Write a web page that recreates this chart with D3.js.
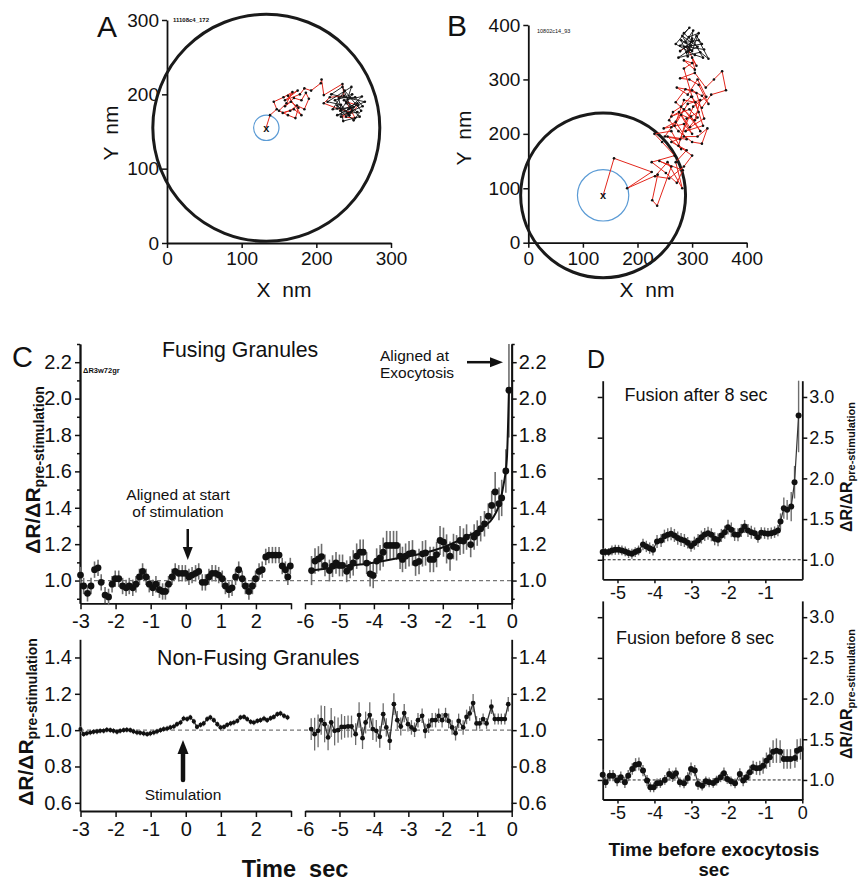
<!DOCTYPE html>
<html>
<head>
<meta charset="utf-8">
<script src="https://cdn.jsdelivr.net/npm/d3@7"></script>
<style>
  body { margin: 0; background: #fff; }
  svg { font-family: "Liberation Sans", Arial, Helvetica, sans-serif; }
</style>
</head>
<body>
<svg width="858" height="882"></svg>
<script>
// ---------- data ----------
const ticksA = [0, 100, 200, 300];
const ticksB = [0, 100, 200, 300, 400];
// centre x, centre y, outer radius, inner radius (nm)
const ringA = [133, 155, 152, 17];
const ringB = [137, 87, 151, 47];

const redA = [[133,156],[138,172],[147,180],[143,190],[156,196],[168,203],[160,188],[150,178],[162,172],[172,168],
  [176,182],[166,190],[158,184],[170,195],[180,192],[186,202],[190,194],[184,180],[174,185],[165,178],[155,175],
  [170,180],[180,172],[162,198],[175,205],[158,192],[178,200],
  [184,208],[193,205],[206,215],[207,220],[210,199],[235,214],[237,198],[218,196],[210,188],[228,181],[246,176],
  [233,170],[252,168],[240,190],[256,185],[244,172]];
const blackA = [[244,172],[225,192],[248,200],[232,178],[255,188],[240,170],[228,185],[250,165],[260,178],[238,205],
  [222,180],[245,182],[258,170],[236,164],[230,195],[252,196],[262,184],[242,175],[233,186],[215,190],[247,210],
  [240,188],[255,176],[228,172],[250,183],[237,192],[261,197],[243,180],[265,190],[220,200],[235,210],[248,178]];
const redB = [[137,87],[157,155],[226,130],[181,100],[237,125],[227,78],[236,68],[262,140],[240,150],[283,133],
  [272,110],[252,128],[226,148],[268,160],[245,185],[231,200],[262,205],[280,172],[255,195],[290,190],[270,222],
  [248,210],[285,218],[300,200],[276,240],[262,232],[295,245],[310,230],[288,205],[320,215],[306,258],[285,262],
  [268,215],[292,255],[315,262],[305,225],[280,235],[296,212],[322,228],[308,275],[288,282],[270,258],[298,232],
  [315,205],[285,245],[262,212],[250,195],[278,190],[302,250],[326,268],[310,300],[292,272],
  [272,285],[300,280],[318,270],[330,255],[312,290],[295,300],[278,302],[305,312],[325,285],[340,300],[355,315],
  [362,280],[335,272],[318,248],[298,268],[280,250],[265,240],[258,225],[275,205],[300,185],[318,182],[328,210],
  [310,195],[285,195],[262,185],[290,170],[270,148],[282,100],[255,148],[232,122],[258,118],[285,140],[300,160],
  [275,178],[290,228],[312,240],[300,268],[285,320],[300,330],[285,335],[305,318],[300,340],[308,325],[290,360],[278,352]];
const blackB = [[278,352],[300,370],[285,385],[295,395],[270,365],[305,345],[320,340],[300,375],[290,350],[310,360],
  [282,380],[296,355],[275,340],[315,350],[330,338],[312,372],[288,368],[302,390],[292,342],[280,372],[298,362],[308,380],
  [318,365],[286,360],[300,352],[312,385],[294,378],[278,362],[322,355]];

// C, fusing granules aligned at stimulation
const fsT = [-3.00,-2.91,-2.80,-2.70,-2.60,-2.50,-2.41,-2.30,-2.20,-2.10,-2.01,-1.91,-1.80,-1.70,-1.61,-1.51,-1.42,-1.32,
  -1.23,-1.13,-1.04,-0.94,-0.85,-0.75,-0.66,-0.58,-0.49,-0.39,-0.30,-0.20,-0.10,-0.01,0.09,0.18,0.28,0.37,0.47,0.56,
  0.66,0.75,0.85,0.94,1.04,1.13,1.23,1.32,1.42,1.51,1.61,1.70,1.80,1.90,1.99,2.09,2.18,2.28,2.37,2.47,2.56,2.66,2.75,
  2.84,2.91,2.98];
const fsV = [1.03,0.97,0.93,0.97,1.06,1.07,0.99,0.92,0.91,0.98,1.01,1.01,0.97,0.96,0.97,0.96,0.98,1.02,1.05,1.02,
  0.98,0.96,0.98,0.95,0.94,0.94,0.98,1.02,1.05,1.04,1.04,1.04,1.02,1.03,1.04,1.05,0.99,0.99,1.02,1.04,
  1.04,1.03,1.01,0.97,0.95,0.96,1.02,1.06,1.01,0.97,0.94,0.97,1.01,1.05,1.06,1.13,1.14,1.14,1.14,1.14,
  1.08,1.06,1.02,1.08];
const fsE = 0.045;

// C, fusing granules aligned at exocytosis
const feT = [-5.81,-5.71,-5.61,-5.52,-5.42,-5.29,-5.20,-5.10,-5.00,-4.91,-4.79,-4.69,-4.60,-4.50,-4.40,-4.31,-4.21,
  -4.11,-4.02,-3.92,-3.82,-3.73,-3.63,-3.53,-3.43,-3.34,-3.24,-3.17,-3.08,-2.98,-2.88,-2.79,-2.69,-2.59,-2.50,-2.37,
  -2.27,-2.18,-2.08,-1.98,-1.89,-1.79,-1.69,-1.60,-1.50,-1.40,-1.31,-1.19,-1.09,-1.00,-0.90,-0.79,-0.68,-0.58,-0.48,
  -0.37,-0.29,-0.17,-0.08];
const feV = [1.055,1.107,1.119,1.132,1.083,1.055,1.079,1.097,1.083,1.083,1.051,1.073,1.097,1.134,1.156,1.156,1.096,
  1.037,1.028,1.107,1.125,1.156,1.193,1.193,1.193,1.193,1.134,1.116,1.134,1.147,1.152,1.096,1.105,1.147,1.152,1.116,
  1.116,1.143,1.220,1.211,1.174,1.134,1.187,1.180,1.220,1.217,1.239,1.198,1.239,1.261,1.285,1.312,1.354,1.413,1.487,
  1.422,1.454,1.602,2.046];
const feE = [0.08,0.07,0.07,0.07,0.06,0.06,0.06,0.06,0.06,0.06,0.06,0.06,0.07,0.07,0.07,0.07,0.06,0.07,0.07,0.07,
  0.07,0.08,0.08,0.08,0.08,0.08,0.07,0.07,0.07,0.07,0.07,0.07,0.07,0.07,0.07,0.07,0.07,0.07,0.08,0.08,
  0.08,0.08,0.07,0.07,0.08,0.07,0.07,0.07,0.07,0.07,0.07,0.07,0.07,0.08,0.11,0.09,0.10,0.12,0.26];
const fitT = [-5.81,-5.0,-4.21,-3.24,-2.27,-1.31,-0.82,-0.53,-0.34,-0.24,-0.14,-0.08];
const fitV = [1.055,1.075,1.092,1.125,1.165,1.242,1.294,1.349,1.432,1.523,1.67,2.05];

// C, non-fusing granules
const nsT = [-3.00,-2.91,-2.82,-2.72,-2.63,-2.53,-2.44,-2.34,-2.25,-2.15,-2.06,-1.96,-1.87,-1.77,-1.68,-1.58,-1.49,
  -1.39,-1.30,-1.20,-1.10,-1.01,-0.91,-0.82,-0.72,-0.63,-0.53,-0.44,-0.34,-0.25,-0.15,-0.06,0.04,0.13,0.23,0.32,0.42,
  0.51,0.61,0.70,0.80,0.90,0.99,1.09,1.18,1.28,1.37,1.47,1.56,1.66,1.75,1.85,1.94,2.04,2.13,2.23,2.32,2.42,2.51,2.61,
  2.70,2.80,2.90];
const nsV = [1.006,0.978,0.983,0.987,0.991,0.993,0.996,0.996,1.002,1.0,0.996,0.991,0.996,1.0,1.002,1.0,0.993,0.987,
  0.985,0.982,0.978,0.982,0.987,0.993,1.0,1.006,1.009,1.015,1.020,1.033,1.042,1.064,1.061,1.070,1.048,1.018,1.029,
  1.037,1.061,1.070,1.055,1.033,1.015,1.018,1.029,1.037,1.042,1.051,1.070,1.073,1.061,1.046,1.042,1.051,1.055,1.064,
  1.055,1.066,1.073,1.088,1.092,1.079,1.070];
const nsE = 0.015;

const neT = [-5.82,-5.72,-5.62,-5.53,-5.43,-5.33,-5.24,-5.14,-5.04,-4.94,-4.85,-4.75,-4.65,-4.53,-4.43,-4.33,-4.24,
  -4.12,-4.03,-3.93,-3.83,-3.73,-3.64,-3.54,-3.42,-3.32,-3.22,-3.12,-3.01,-2.91,-2.82,-2.72,-2.60,-2.51,-2.41,-2.31,
  -2.21,-2.12,-2.02,-1.92,-1.83,-1.73,-1.63,-1.54,-1.41,-1.31,-1.22,-1.12,-1.02,-0.93,-0.83,-0.73,-0.59,-0.49,-0.39,
  -0.30,-0.20,-0.10];
const neV = [1.006,0.978,0.996,1.055,1.033,0.96,1.042,0.996,1.0,1.018,1.018,1.020,1.020,0.978,1.083,0.956,1.042,1.083,
  1.006,0.996,0.963,1.088,1.015,0.941,1.143,1.055,1.020,1.094,1.033,1.015,1.002,1.055,1.079,0.996,1.024,1.055,1.055,
  1.079,1.055,1.083,1.051,1.015,0.983,1.051,1.015,1.073,1.092,1.149,1.037,1.037,1.061,1.037,1.129,1.061,1.061,1.061,
  1.061,1.143];
const neE = [0.06,0.09,0.09,0.08,0.10,0.07,0.08,0.08,0.07,0.07,0.06,0.06,0.06,0.06,0.07,0.06,0.06,0.07,0.06,0.06,
  0.06,0.06,0.05,0.05,0.06,0.05,0.05,0.05,0.04,0.04,0.04,0.04,0.04,0.04,0.04,0.04,0.04,0.04,0.04,0.04,
  0.04,0.04,0.04,0.04,0.04,0.04,0.04,0.05,0.04,0.03,0.03,0.03,0.04,0.03,0.03,0.03,0.03,0.04];

// D, fusion after 8 sec
const laT = [-5.40,-5.33,-5.24,-5.15,-5.06,-4.97,-4.88,-4.79,-4.70,-4.61,-4.52,-4.43,-4.31,-4.22,-4.13,-4.04,-3.93,
  -3.82,-3.73,-3.64,-3.55,-3.46,-3.37,-3.28,-3.19,-3.10,-3.01,-2.92,-2.82,-2.73,-2.64,-2.55,-2.46,-2.37,-2.28,-2.19,
  -2.10,-2.01,-1.92,-1.83,-1.74,-1.65,-1.56,-1.47,-1.38,-1.29,-1.20,-1.11,-1.02,-0.93,-0.84,-0.75,-0.66,-0.59,-0.50,
  -0.41,-0.30,-0.21,-0.10];
const laV = [1.094,1.094,1.094,1.115,1.123,1.123,1.115,1.102,1.082,1.074,1.094,1.115,1.188,1.164,1.143,1.123,1.225,
  1.237,1.290,1.307,1.319,1.299,1.266,1.249,1.237,1.209,1.168,1.204,1.237,1.278,1.311,1.327,1.307,1.258,1.245,1.299,
  1.339,1.401,1.368,1.311,1.307,1.360,1.409,1.360,1.339,1.327,1.278,1.331,1.327,1.319,1.327,1.339,1.360,1.470,1.634,
  1.613,1.654,1.953,2.771];
const laE = [0.05,0.05,0.05,0.06,0.06,0.06,0.06,0.06,0.06,0.06,0.06,0.06,0.07,0.07,0.07,0.07,0.08,0.08,0.08,0.08,
  0.08,0.08,0.08,0.08,0.08,0.07,0.07,0.08,0.08,0.08,0.08,0.08,0.08,0.08,0.08,0.08,0.08,0.09,0.09,0.08,
  0.08,0.08,0.08,0.08,0.08,0.07,0.07,0.07,0.07,0.07,0.07,0.07,0.07,0.10,0.13,0.12,0.18,0.20,0.45];

// D, fusion before 8 sec
const lbT = [-5.40,-5.32,-5.21,-5.12,-5.01,-4.91,-4.80,-4.71,-4.60,-4.51,-4.42,-4.31,-4.20,-4.11,-4.02,-3.93,-3.84,
  -3.72,-3.60,-3.51,-3.42,-3.31,-3.20,-3.10,-3.01,-2.91,-2.82,-2.71,-2.61,-2.52,-2.41,-2.32,-2.21,-2.12,-2.03,-1.93,
  -1.82,-1.69,-1.60,-1.51,-1.42,-1.33,-1.24,-1.15,-1.06,-0.97,-0.88,-0.79,-0.70,-0.60,-0.50,-0.41,-0.32,-0.20,-0.14,-0.05];
const lbV = [1.065,0.971,1.053,1.053,0.992,1.033,0.971,1.053,1.135,1.188,1.196,1.115,0.992,0.910,0.910,0.959,0.963,
  1.0,1.074,1.045,1.082,0.971,0.959,1.025,1.135,1.115,0.951,0.930,0.984,0.971,0.963,0.992,1.033,1.082,1.012,0.984,
  0.959,1.074,0.992,1.033,1.094,1.155,1.143,1.147,1.176,1.237,1.278,1.348,1.360,1.348,1.258,1.258,1.258,1.270,1.360,1.380];
const lbE = [0.07,0.07,0.07,0.07,0.07,0.07,0.07,0.07,0.07,0.08,0.08,0.07,0.07,0.06,0.06,0.06,0.06,0.06,0.07,0.07,
  0.07,0.06,0.06,0.07,0.08,0.07,0.07,0.06,0.06,0.06,0.06,0.06,0.06,0.07,0.06,0.06,0.06,0.07,0.07,0.07,
  0.08,0.08,0.08,0.09,0.10,0.10,0.12,0.14,0.15,0.14,0.12,0.12,0.12,0.12,0.14,0.13];

const ticksCTop = [1.0, 1.2, 1.4, 1.6, 1.8, 2.0, 2.2];
const minorCTop = [0.9, 1.1, 1.3, 1.5, 1.7, 1.9, 2.1, 2.3];
const ticksCBot = [0.6, 0.8, 1.0, 1.2, 1.4];
const ticksCStim = [-3, -2, -1, 0, 1, 2, 3];
const ticksCExo = [-6, -5, -4, -3, -2, -1, 0];
const ticksD = [1.0, 1.5, 2.0, 2.5, 3.0];
const ticksDTimeTop = [-5, -4, -3, -2, -1];
const ticksDTime = [-5, -4, -3, -2, -1, 0];

// ---------- helpers ----------
const svg = d3.select("svg");
const FONT = '"Liberation Sans", Arial, Helvetica, sans-serif';

const styleAxis = (g, fs) => {
    g.attr("font-size", fs).attr("font-family", FONT);
    g.select(".domain").attr("stroke-width", 1.8).attr("stroke", "#111");
    g.selectAll(".tick line").attr("stroke-width", 1.5).attr("stroke", "#111");
    g.selectAll(".tick text").attr("fill", "#111");
    return g;
};

const addText = (x, y, s, fs, o = {}) => {
    return svg.append("text")
        .attr("x", x).attr("y", y)
        .attr("font-size", fs)
        .attr("font-weight", o.bold ? "bold" : null)
        .attr("text-anchor", o.anchor || "start")
        .attr("fill", "#111")
        .text(s);
};

const rotText = (x, y, s, fs, bold) => {
    return svg.append("text")
        .attr("transform", `translate(${x},${y}) rotate(-90)`)
        .attr("text-anchor", "middle")
        .attr("font-size", fs)
        .attr("font-weight", bold ? "bold" : null)
        .attr("fill", "#111")
        .text(s);
};

// ΔR/ΔR with a "pre-stimulation" subscript, turned on its side
const ratioLabel = (x, y, fs, fsSub) => {
    const t = svg.append("text")
        .attr("transform", `translate(${x},${y}) rotate(-90)`)
        .attr("text-anchor", "middle")
        .attr("font-weight", "bold")
        .attr("font-size", fs)
        .attr("fill", "#111");
    t.append("tspan").text("ΔR/ΔR");
    t.append("tspan").attr("font-size", fsSub).attr("dy", fsSub * 0.3).text("pre-stimulation");
};

// one trace: error bars, optional joining line, dots
const drawSeries = (T, V, E, x, y, o) => {
    const g = svg.append("g");
    const top = y.domain()[1];
    const err = (i) => (typeof E === "number" ? E : E[i]);
    g.selectAll("line").data(T).join("line")
        .attr("x1", (d) => x(d)).attr("x2", (d) => x(d))
        .attr("y1", (d, i) => y(Math.min(V[i] + err(i), top)))
        .attr("y2", (d, i) => y(V[i] - err(i)))
        .attr("stroke", "#6e6e6e").attr("stroke-width", o.ew);
    if (o.join) {
        g.append("path").datum(T)
            .attr("d", d3.line().x((d) => x(d)).y((d, i) => y(V[i])))
            .attr("fill", "none").attr("stroke", "#333").attr("stroke-width", o.lw);
    }
    g.selectAll("circle").data(T).join("circle")
        .attr("cx", (d) => x(d)).attr("cy", (d, i) => y(V[i]))
        .attr("r", o.r).attr("fill", "#111");
};

// trajectory panel (A, B)
const trackPanel = (x, y, ticks, ring, red, black) => {
    styleAxis(svg.append("g").attr("transform", `translate(0,${y.range()[0]})`)
        .call(d3.axisBottom(x).tickValues(ticks).tickSize(5).tickSizeOuter(0).tickPadding(4)), 19);
    styleAxis(svg.append("g").attr("transform", `translate(${x.range()[0]},0)`)
        .call(d3.axisLeft(y).tickValues(ticks).tickSize(5).tickSizeOuter(0).tickPadding(3)), 19);

    const line = d3.line().x((d) => x(d[0])).y((d) => y(d[1]));
    svg.append("circle")
        .attr("cx", x(ring[0])).attr("cy", y(ring[1])).attr("r", x(ring[2]) - x(0))
        .attr("fill", "none").attr("stroke", "#1a1a1a").attr("stroke-width", 3);
    svg.append("circle")
        .attr("cx", x(ring[0])).attr("cy", y(ring[1])).attr("r", x(ring[3]) - x(0))
        .attr("fill", "none").attr("stroke", "#5b9bd5").attr("stroke-width", 1.2);
    svg.append("path").datum(red).attr("d", line)
        .attr("fill", "none").attr("stroke", "#e3261b").attr("stroke-width", 1);
    svg.append("path").datum(black).attr("d", line)
        .attr("fill", "none").attr("stroke", "#111").attr("stroke-width", 0.9);
    svg.append("g").selectAll("circle").data(red.slice(1).concat(black)).join("circle")
        .attr("cx", (d) => x(d[0])).attr("cy", (d) => y(d[1])).attr("r", 1.3).attr("fill", "#111");
    addText(x(ring[0]), y(ring[1]) + 4, "x", 11, { bold: true, anchor: "middle" });
};

// ---------- A ----------
const xA = d3.scaleLinear().domain([0, 300]).range([167, 391]);
const yA = d3.scaleLinear().domain([0, 300]).range([243, 20]);
trackPanel(xA, yA, ticksA, ringA, redA, blackA);
addText(97, 37, "A", 30);
addText(173, 22, "11108c4_172", 6, { bold: true });
addText(284, 297, "X\u00a0\u00a0nm", 21, { anchor: "middle" });
rotText(118, 133, "Y\u00a0\u00a0nm", 21);

// ---------- B ----------
const xB = d3.scaleLinear().domain([0, 400]).range([528.3, 746.7]);
const yB = d3.scaleLinear().domain([0, 400]).range([242.7, 25]);
trackPanel(xB, yB, ticksB, ringB, redB, blackB);
addText(447, 36, "B", 30);
addText(537, 33, "10802c14_93", 5.5);
addText(647, 297, "X\u00a0\u00a0nm", 21, { anchor: "middle" });
rotText(471, 138, "Y\u00a0\u00a0nm", 21);

// ---------- C ----------
const xStim = d3.scaleLinear().domain([-3, 3]).range([80.5, 291]);
const xExo = d3.scaleLinear().domain([-6, 0]).range([305, 511.7]);
const yTop = d3.scaleLinear().domain([0.875, 2.3]).range([603.3, 344]);
const yBot = d3.scaleLinear().domain([0.555, 1.5]).range([811, 639.3]);
const f1 = d3.format(".1f");

// reference lines at 1.0
[yTop, yBot].forEach((y) => {
    svg.append("line")
        .attr("x1", 80).attr("x2", xExo(0)).attr("y1", y(1)).attr("y2", y(1))
        .attr("stroke", "#777").attr("stroke-width", 1.2).attr("stroke-dasharray", "4,3");
});

// top row axes
styleAxis(svg.append("g").attr("transform", "translate(80,0)")
    .call(d3.axisLeft(yTop).tickValues(minorCTop).tickSize(3).tickSizeOuter(0).tickFormat("")), 20);
styleAxis(svg.append("g").attr("transform", "translate(80,0)")
    .call(d3.axisLeft(yTop).tickValues(ticksCTop).tickSize(5).tickSizeOuter(0).tickFormat(f1).tickPadding(3)), 20);
styleAxis(svg.append("g").attr("transform", `translate(${xExo(0)},0)`)
    .call(d3.axisRight(yTop).tickValues(minorCTop).tickSize(3).tickSizeOuter(0).tickFormat("")), 20);
styleAxis(svg.append("g").attr("transform", `translate(${xExo(0)},0)`)
    .call(d3.axisRight(yTop).tickValues(ticksCTop).tickSize(5).tickSizeOuter(0).tickFormat(f1).tickPadding(2)), 20);
styleAxis(svg.append("g").attr("transform", `translate(0,${yTop.range()[0]})`)
    .call(d3.axisBottom(xStim).tickValues(ticksCStim).tickSize(6).tickSizeOuter(0)
        .tickFormat((d) => (d === 3 ? "" : String(d))).tickPadding(5)), 20);
styleAxis(svg.append("g").attr("transform", `translate(0,${yTop.range()[0]})`)
    .call(d3.axisBottom(xExo).tickValues(ticksCExo).tickSize(6).tickSizeOuter(0)
        .tickFormat((d) => String(d)).tickPadding(5)), 20);

// bottom row axes
styleAxis(svg.append("g").attr("transform", "translate(80,0)")
    .call(d3.axisLeft(yBot).tickValues(ticksCBot).tickSize(5).tickSizeOuter(0).tickFormat(f1).tickPadding(3)), 20);
styleAxis(svg.append("g").attr("transform", `translate(${xExo(0)},0)`)
    .call(d3.axisRight(yBot).tickValues(ticksCBot).tickSize(5).tickSizeOuter(0).tickFormat(f1).tickPadding(2)), 20);
styleAxis(svg.append("g").attr("transform", `translate(0,${yBot.range()[0]})`)
    .call(d3.axisBottom(xStim).tickValues(ticksCStim).tickSize(6).tickSizeOuter(0)
        .tickFormat((d) => (d === 3 ? "" : String(d))).tickPadding(5)), 20);
styleAxis(svg.append("g").attr("transform", `translate(0,${yBot.range()[0]})`)
    .call(d3.axisBottom(xExo).tickValues(ticksCExo).tickSize(6).tickSizeOuter(0)
        .tickFormat((d) => String(d)).tickPadding(5)), 20);

// traces
drawSeries(fsT, fsV, fsE, xStim, yTop, { r: 3.4, ew: 1.6 });
drawSeries(feT, feV, feE, xExo, yTop, { r: 3.4, ew: 1.6 });
svg.append("path").datum(fitT)
    .attr("d", d3.line().curve(d3.curveMonotoneX).x((d) => xExo(d)).y((d, i) => yTop(fitV[i])))
    .attr("fill", "none").attr("stroke", "#111").attr("stroke-width", 2);
drawSeries(nsT, nsV, nsE, xStim, yBot, { r: 2.1, ew: 1.2, join: true, lw: 1.3 });
drawSeries(neT, neV, neE, xExo, yBot, { r: 2.4, ew: 1.3, join: true, lw: 1.3 });

// labels and arrows
addText(12, 367, "C", 29);
addText(83, 373, "ΔR3w72gr", 7.5, { bold: true });
addText(162, 357, "Fusing Granules", 21.3);
addText(157, 665, "Non-Fusing Granules", 21.3);
addText(178, 500, "Aligned at start", 15.5, { anchor: "middle" });
addText(178, 517, "of stimulation", 15.5, { anchor: "middle" });
addText(380, 361, "Aligned at", 15.5);
addText(380, 378, "Exocytosis", 15.5);
addText(183, 800, "Stimulation", 15.5, { anchor: "middle" });
addText(295, 877, "Time\u00a0\u00a0sec", 23.5, { bold: true, anchor: "middle" });
ratioLabel(40, 470, 21, 14);
ratioLabel(33, 722, 21, 14);

const ax = xStim(0) + 2;
svg.append("line").attr("x1", ax).attr("x2", ax).attr("y1", 529).attr("y2", 548)
    .attr("stroke", "#111").attr("stroke-width", 2.5);
svg.append("path").attr("d", `M${ax - 5},547 L${ax + 5},547 L${ax},560 Z`).attr("fill", "#111");

const ay = yTop(2.2);
svg.append("line").attr("x1", 467).attr("x2", 492).attr("y1", ay).attr("y2", ay)
    .attr("stroke", "#111").attr("stroke-width", 2.5);
svg.append("path").attr("d", `M490,${ay - 5} L490,${ay + 5} L503,${ay} Z`).attr("fill", "#111");

svg.append("line").attr("x1", 183).attr("x2", 183).attr("y1", 780).attr("y2", 752)
    .attr("stroke", "#111").attr("stroke-width", 4.5).attr("stroke-linecap", "round");
svg.append("path").attr("d", "M177.5,754 L188.5,754 L183,740 Z").attr("fill", "#111");

// ---------- D ----------
const xD = d3.scaleLinear().domain([-5.4, 0]).range([602.7, 802.3]);
const yDa = d3.scaleLinear().domain([0.76, 3.2]).range([579.3, 380.7]);
const yDb = d3.scaleLinear().domain([0.76, 3.2]).range([799.5, 600.9]);

[[yDa, ticksDTimeTop], [yDb, ticksDTime]].forEach(([y, tt]) => {
    svg.append("line")
        .attr("x1", xD.range()[0]).attr("x2", xD.range()[1]).attr("y1", y(1)).attr("y2", y(1))
        .attr("stroke", "#222").attr("stroke-width", 1).attr("stroke-dasharray", "3,2");
    styleAxis(svg.append("g").attr("transform", `translate(${xD.range()[0]},0)`)
        .call(d3.axisLeft(y).tickValues(ticksD).tickSize(5).tickSizeOuter(0).tickFormat("")), 18);
    styleAxis(svg.append("g").attr("transform", `translate(${xD.range()[1]},0)`)
        .call(d3.axisRight(y).tickValues(ticksD).tickSize(5).tickSizeOuter(0).tickFormat(f1).tickPadding(2)), 18);
    styleAxis(svg.append("g").attr("transform", `translate(0,${y.range()[0]})`)
        .call(d3.axisBottom(xD).tickValues(tt).tickSize(4).tickSizeOuter(0)
            .tickFormat((d) => String(d)).tickPadding(3)), 18);
});

drawSeries(laT, laV, laE, xD, yDa, { r: 3, ew: 1.4, join: true, lw: 1.2 });
drawSeries(lbT, lbV, lbE, xD, yDb, { r: 3, ew: 1.4, join: true, lw: 1.2 });

addText(587, 368, "D", 25);
addText(696, 401, "Fusion after 8 sec", 18, { anchor: "middle" });
addText(695, 644, "Fusion before 8 sec", 18, { anchor: "middle" });
ratioLabel(852, 467, 16, 11);
ratioLabel(852, 694, 16, 11);
addText(714, 856, "Time before exocytosis", 19, { bold: true, anchor: "middle" });
addText(714, 876, "sec", 18.5, { bold: true, anchor: "middle" });
</script>
</body>
</html>
